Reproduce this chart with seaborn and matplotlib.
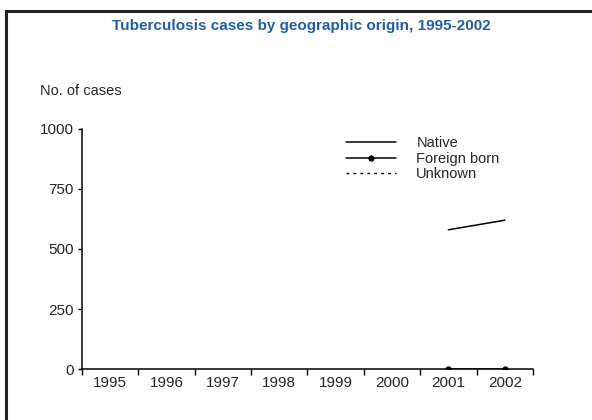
import numpy as np
import pandas as pd
import seaborn as sns
import matplotlib.pyplot as plt
from matplotlib.patches import Rectangle

years = ["1995", "1996", "1997", "1998", "1999", "2000", "2001", "2002"]
native = [np.nan, np.nan, np.nan, np.nan, np.nan, np.nan, 580, 620]
foreign_born = [np.nan, np.nan, np.nan, np.nan, np.nan, np.nan, 0, 0]
unknown = [np.nan, np.nan, np.nan, np.nan, np.nan, np.nan, 0, 0]
y_ticks = [0, 250, 500, 750, 1000]

sns.set_theme(style="white")
plt.rcParams["font.family"] = ["Liberation Sans Narrow", "Liberation Sans", "DejaVu Sans"]

df = pd.DataFrame({"pos": range(len(years)), "Native": native,
                   "Foreign born": foreign_born, "Unknown": unknown})

fig = plt.figure(figsize=(5.92, 4.2), dpi=100)
ax = fig.add_axes([0.1385, 0.1214, 0.7618, 0.5715])

sns.lineplot(data=df, x="pos", y="Unknown", ax=ax, color="black", lw=1.0,
             linestyle=(0, (2, 3)), label="Unknown")
sns.lineplot(data=df, x="pos", y="Native", ax=ax, color="black", lw=1.1, label="Native")
sns.lineplot(data=df, x="pos", y="Foreign born", ax=ax, color="black", lw=1.1,
             marker="o", markersize=4.5, markeredgewidth=0, label="Foreign born")

ax.set_xlim(-0.5, len(years) - 0.5)
ax.set_ylim(0, 1000)
ax.set_xticks(np.arange(-0.5, len(years)))
ax.set_xticklabels([])
ax.set_xticks(np.arange(len(years)), minor=True)
ax.set_xticklabels(years, minor=True, fontsize=11)
ax.set_yticks(y_ticks)
ax.set_yticklabels([str(v) for v in y_ticks], fontsize=11)
ax.tick_params(axis="x", which="major", direction="out", length=4, width=1, color="black", bottom=True)
ax.tick_params(axis="x", which="minor", length=0, pad=5)
ax.tick_params(axis="y", direction="out", length=3, width=1, color="black", left=True, pad=3)
ax.set_xlabel("")
ax.set_ylabel("")
for s in ["top", "right"]:
    ax.spines[s].set_visible(False)
for s in ["left", "bottom"]:
    ax.spines[s].set_color("black")
    ax.spines[s].set_linewidth(1.1)

handles, labels = ax.get_legend_handles_labels()
order = [labels.index(n) for n in ["Native", "Foreign born", "Unknown"]]
ax.legend([handles[i] for i in order], [labels[i] for i in order],
          loc="upper left", bbox_to_anchor=(0.57, 1.0), frameon=False,
          fontsize=10.5, handlelength=3.4, handletextpad=1.4, labelspacing=0.1,
          borderpad=0)

fig.text(301 / 592, 1 - 26 / 420, "Tuberculosis cases by geographic origin, 1995-2002",
         ha="center", va="center", color="#1f5ea8", fontsize=11, fontweight="bold")
fig.text(40 / 592, 1 - 91 / 420, "No. of cases", ha="left", va="center", fontsize=10.5)

fig.patches.append(Rectangle((6 / 592, -0.1), 1.2, 1 - 11 / 420 + 0.1,
                             transform=fig.transFigure, fill=False,
                             edgecolor="#222222", linewidth=2.2))

fig.savefig("out.png", dpi=100)
